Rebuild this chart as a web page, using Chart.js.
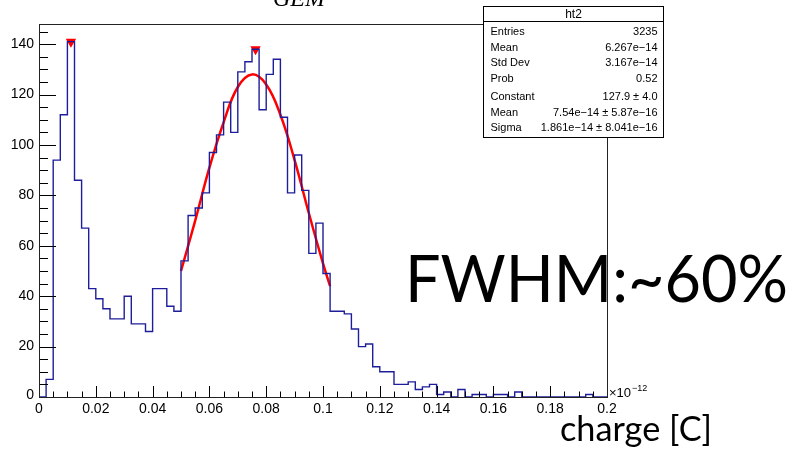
<!DOCTYPE html>
<html>
<head>
<meta charset="utf-8">
<script src="https://cdn.jsdelivr.net/npm/chart.js@4.4.1/dist/chart.umd.min.js"></script>
<style>
  html, body { margin: 0; padding: 0; background: #fff; }
  #wrap { width: 793px; height: 452px; }
</style>
</head>
<body>
<div id="wrap"><canvas id="c" width="793" height="452"></canvas></div>
<script>
// ht2: charge spectrum, 80 bins from 0 to 0.2 (x 1e-12 C)
const binWidth = 0.0025;
const counts = [
  0, 7, 94, 112, 141, 86, 67, 43, 39, 35,
  31, 31, 40, 29, 29, 26, 43, 43, 36, 34,
  54, 72, 75, 81, 97, 104, 117, 105, 129, 133,
  138, 114, 128, 134, 111, 81, 96, 82, 57, 69,
  49, 34, 34, 33, 27, 20, 21, 12, 10, 10,
  5, 5, 6, 3, 4, 5, 1, 2, 0, 3,
  0, 1, 1, 0, 1, 1, 0, 2, 0, 0,
  0, 0, 0, 0, 0, 0, 0, 1, 0, 0
];

// gaus fit curve as drawn on the plot
const fitX = [0.05, 0.055, 0.06, 0.065, 0.07, 0.075, 0.08, 0.085, 0.09, 0.095, 0.1, 0.1025];
const fitY = [50, 70, 91, 109, 123, 128, 124, 112, 94, 73, 53, 44];

// peak markers
const peakX = [0.01125, 0.07625];
const peakY = [141, 138];

const yTicks = [0, 20, 40, 60, 80, 100, 120, 140];
const xTicks = [0, 0.02, 0.04, 0.06, 0.08, 0.1, 0.12, 0.14, 0.16, 0.18, 0.2];
const xTickLabels = ['0', '0.02', '0.04', '0.06', '0.08', '0.1', '0.12', '0.14', '0.16', '0.18', '0.2'];

const statsTitle = 'ht2';
const statsRows = [
  ['Entries', '3235'],
  ['Mean', '6.267e\u221214'],
  ['Std Dev', '3.167e\u221214'],
  ['Prob', '0.52'],
  ['Constant', '127.9 \u00b1 4.0'],
  ['Mean', '7.54e\u221214 \u00b1 5.87e\u221216'],
  ['Sigma', '1.861e\u221214 \u00b1 8.041e\u221216']
];

// histogram as steps: one point per bin low edge, plus the upper edge
const histPoints = counts.map((c, i) => ({ x: i * binWidth, y: c }));
histPoints.push({ x: counts.length * binWidth, y: counts[counts.length - 1] });

const fitPoints = fitX.map((x, i) => ({ x: x, y: fitY[i] }));
const peakPoints = peakX.map((x, i) => ({ x: x, y: peakY[i] }));

const rootStyle = {
  id: 'rootStyle',
  afterDatasetsDraw(chart) {
    const { ctx, chartArea: a, scales: { x, y } } = chart;
    ctx.save();
    ctx.strokeStyle = '#000';
    ctx.lineWidth = 1;

    // ticks, drawn inward like ROOT
    ctx.beginPath();
    for (let i = 0; i <= 40; i++) {
      const v = i * 0.005;
      const px = Math.round(x.getPixelForValue(v)) + 0.5;
      const len = i % 4 === 0 ? 11 : 5.5;
      ctx.moveTo(px, a.bottom);
      ctx.lineTo(px, a.bottom - len);
    }
    for (let v = 0; v <= 145; v += 5) {
      const py = Math.round(y.getPixelForValue(v)) + 0.5;
      const len = v % 20 === 0 ? 17 : 9;
      ctx.moveTo(a.left, py);
      ctx.lineTo(a.left + len, py);
    }
    ctx.stroke();

    // frame
    ctx.strokeStyle = '#222';
    ctx.strokeRect(Math.round(a.left) + 0.5, Math.round(a.top) + 0.5,
      Math.round(a.right - a.left), Math.round(a.bottom - a.top));

    // tick labels
    ctx.fillStyle = '#000';
    ctx.font = '14px "Liberation Sans", Arial, sans-serif';
    ctx.textAlign = 'right';
    ctx.textBaseline = 'middle';
    yTicks.forEach(v => {
      ctx.fillText(String(v), a.left - 5, y.getPixelForValue(v) - (v === 0 ? 2 : 0));
    });
    ctx.textAlign = 'center';
    ctx.textBaseline = 'alphabetic';
    xTicks.forEach((v, i) => {
      ctx.fillText(xTickLabels[i], x.getPixelForValue(v), a.bottom + 16);
    });

    // exponent
    ctx.textAlign = 'left';
    ctx.font = '13px "Liberation Sans", Arial, sans-serif';
    ctx.fillText('\u00d710', a.right + 2, a.bottom);
    ctx.font = '9px "Liberation Sans", Arial, sans-serif';
    ctx.fillText('\u221212', a.right + 25, a.bottom - 6);

    // stats box
    const bx = 483.5, by = 6.5, bw = 180, bh = 131;
    ctx.fillStyle = '#fff';
    ctx.fillRect(bx, by, bw, bh);
    ctx.strokeStyle = '#000';
    ctx.strokeRect(bx, by, bw, bh);
    ctx.beginPath();
    ctx.moveTo(bx, 21.5);
    ctx.lineTo(bx + bw, 21.5);
    ctx.stroke();
    ctx.fillStyle = '#000';
    ctx.font = '12px "Liberation Sans", Arial, sans-serif';
    ctx.textAlign = 'center';
    ctx.textBaseline = 'middle';
    ctx.fillText(statsTitle, bx + bw / 2, 14.5);
    ctx.font = '11px "Liberation Sans", Arial, sans-serif';
    const rowY = [32, 48, 63, 79, 97, 113, 128];
    statsRows.forEach((r, i) => {
      ctx.textAlign = 'left';
      ctx.fillText(r[0], bx + 7, rowY[i]);
      ctx.textAlign = 'right';
      ctx.fillText(r[1], bx + bw - 6, rowY[i]);
    });

    // title, mostly cut off at the top edge
    ctx.textAlign = 'left';
    ctx.textBaseline = 'alphabetic';
    ctx.font = 'italic 24px "Liberation Serif", "DejaVu Serif", serif';
    ctx.fillText('GEM', 273, 6);

    // annotations pasted over the plot
    const fitText = (txt, left, right, base, size) => {
      ctx.font = size + 'px Lato, "Open Sans", sans-serif';
      const w = ctx.measureText(txt).width;
      ctx.save();
      ctx.translate(left, base);
      ctx.scale((right - left) / w, 1);
      ctx.fillText(txt, 0, 0);
      ctx.restore();
    };
    fitText('FWHM:~60%', 405, 788, 302, 66);
    fitText('charge [C]', 560, 712, 441, 34);

    ctx.restore();
  }
};

new Chart(document.getElementById('c'), {
  type: 'line',
  data: {
    datasets: [{
      label: 'ht2',
      data: histPoints,
      stepped: true,
      borderColor: '#1e1e9c',
      borderWidth: 1.4,
      pointRadius: 0,
      fill: false
    }, {
      label: 'gaus',
      data: fitPoints,
      borderColor: '#ff0000',
      borderWidth: 2.5,
      tension: 0.4,
      pointRadius: 0,
      fill: false
    }, {
      label: 'peaks',
      data: peakPoints,
      showLine: false,
      pointStyle: 'triangle',
      rotation: 180,
      pointRadius: 6,
      pointBackgroundColor: '#ff0000',
      pointBorderColor: '#ff0000',
      borderWidth: 0
    }]
  },
  options: {
    responsive: false,
    animation: false,
    layout: { padding: { left: 39, top: 24, right: 186, bottom: 55 } },
    plugins: {
      legend: { display: false },
      tooltip: { enabled: false }
    },
    scales: {
      x: { type: 'linear', min: 0, max: 0.2, display: false },
      y: { min: 0, max: 148, display: false }
    }
  },
  plugins: [rootStyle]
});
</script>
</body>
</html>
